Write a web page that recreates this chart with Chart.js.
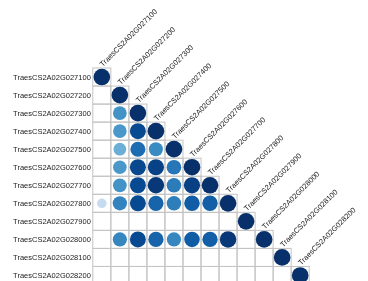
<!DOCTYPE html>
<html>
<head>
<meta charset="utf-8">
<script src="https://cdn.jsdelivr.net/npm/chart.js@4"></script>
<style>
html, body { margin: 0; padding: 0; background: #fff; overflow: hidden; }
#wrap { width: 368px; height: 281px; overflow: hidden; }
</style>
</head>
<body>
<div id="wrap"><canvas id="chart" width="368" height="292"></canvas></div>
<script>
const genes = [
    'TraesCS2A02G027100', 'TraesCS2A02G027200', 'TraesCS2A02G027300',
    'TraesCS2A02G027400', 'TraesCS2A02G027500', 'TraesCS2A02G027600',
    'TraesCS2A02G027700', 'TraesCS2A02G027800', 'TraesCS2A02G027900',
    'TraesCS2A02G028000', 'TraesCS2A02G028100', 'TraesCS2A02G028200'
];

// lower triangle, row i = gene i, column j = gene j (null = empty cell)
const matrix = [
    [1],
    [null, 1],
    [null, 0.62, 1],
    [null, 0.6, 0.9, 1],
    [null, 0.5, 0.77, 0.65, 1],
    [null, 0.6, 0.91, 0.93, 0.73, 1],
    [null, 0.62, 0.9, 0.97, 0.71, 0.94, 1],
    [0.25, 0.68, 0.9, 0.8, 0.7, 0.83, 0.82, 1],
    [null, null, null, null, null, null, null, null, 1],
    [null, 0.67, 0.9, 0.8, 0.67, 0.83, 0.82, 0.97, null, 1],
    [null, null, null, null, null, null, null, null, null, null, 1],
    [null, null, null, null, null, null, null, null, null, null, null, 1]
];

const blues = ['#f7fbff', '#deebf7', '#c6dbef', '#9ecae1', '#6baed6', '#4292c6', '#2171b5', '#08519c', '#08306b'];

function hexToRgb(h) {
    return [parseInt(h.slice(1, 3), 16), parseInt(h.slice(3, 5), 16), parseInt(h.slice(5, 7), 16)];
}

function bluesColor(t) {
    t = Math.max(0, Math.min(1, t));
    const pos = t * (blues.length - 1);
    const i = Math.min(Math.floor(pos), blues.length - 2);
    const f = pos - i;
    const a = hexToRgb(blues[i]);
    const b = hexToRgb(blues[i + 1]);
    const c = a.map((v, k) => Math.round(v + (b[k] - v) * f));
    return `rgb(${c[0]}, ${c[1]}, ${c[2]})`;
}

const points = [];
matrix.forEach((row, i) => {
    row.forEach((v, j) => {
        if (v !== null) points.push({ x: j, y: i, v: v });
    });
});

const labelFont = '7.5px "Liberation Sans", Arial, sans-serif';

// cell borders of the lower triangle
const gridPlugin = {
    id: 'triGrid',
    beforeDatasetsDraw(chart) {
        const { ctx, scales: { x, y } } = chart;
        ctx.save();
        ctx.strokeStyle = '#c4c4c4';
        ctx.lineWidth = 1;
        for (let i = 0; i < genes.length; i++) {
            for (let j = 0; j <= i; j++) {
                const x0 = x.getPixelForValue(j - 0.5);
                const x1 = x.getPixelForValue(j + 0.5);
                const y0 = y.getPixelForValue(i - 0.5);
                const y1 = y.getPixelForValue(i + 0.5);
                ctx.strokeRect(x0, y0, x1 - x0, y1 - y0);
            }
        }
        ctx.restore();
    }
};

// row labels on the left, column labels along the diagonal
const labelPlugin = {
    id: 'geneLabels',
    afterDraw(chart) {
        const { ctx, chartArea, scales: { x, y } } = chart;
        ctx.save();
        ctx.font = labelFont;
        ctx.fillStyle = '#222';

        ctx.textAlign = 'right';
        ctx.textBaseline = 'middle';
        genes.forEach((g, i) => {
            ctx.fillText(g, chartArea.left - 2, y.getPixelForValue(i) + 0.5);
        });

        ctx.textAlign = 'left';
        ctx.textBaseline = 'alphabetic';
        genes.forEach((g, j) => {
            ctx.save();
            ctx.translate(x.getPixelForValue(j) + 1, y.getPixelForValue(j - 0.5) - 1);
            ctx.rotate(-Math.PI / 4);
            ctx.fillText(g, 0, 0);
            ctx.restore();
        });
        ctx.restore();
    }
};

function circleRadius(ctx) {
    const s = ctx.chart.scales.x;
    const cell = s.getPixelForValue(1) - s.getPixelForValue(0);
    return cell * 0.462 * Math.pow(ctx.raw.v, 0.4);
}

new Chart(document.getElementById('chart'), {
    type: 'scatter',
    data: {
        datasets: [{
            data: points,
            clip: false,
            pointRadius: circleRadius,
            pointHoverRadius: circleRadius,
            pointBorderWidth: 0,
            pointBackgroundColor: (ctx) => bluesColor(ctx.raw.v),
            pointBorderColor: (ctx) => bluesColor(ctx.raw.v)
        }]
    },
    options: {
        responsive: false,
        animation: false,
        layout: {
            padding: { left: 92.8, top: 68, right: 58.8, bottom: 7.5 }
        },
        plugins: {
            legend: { display: false },
            tooltip: { enabled: false }
        },
        scales: {
            x: { type: 'linear', min: -0.5, max: 11.5, display: false },
            y: { type: 'linear', min: -0.5, max: 11.5, reverse: true, display: false }
        }
    },
    plugins: [gridPlugin, labelPlugin]
});
</script>
</body>
</html>
